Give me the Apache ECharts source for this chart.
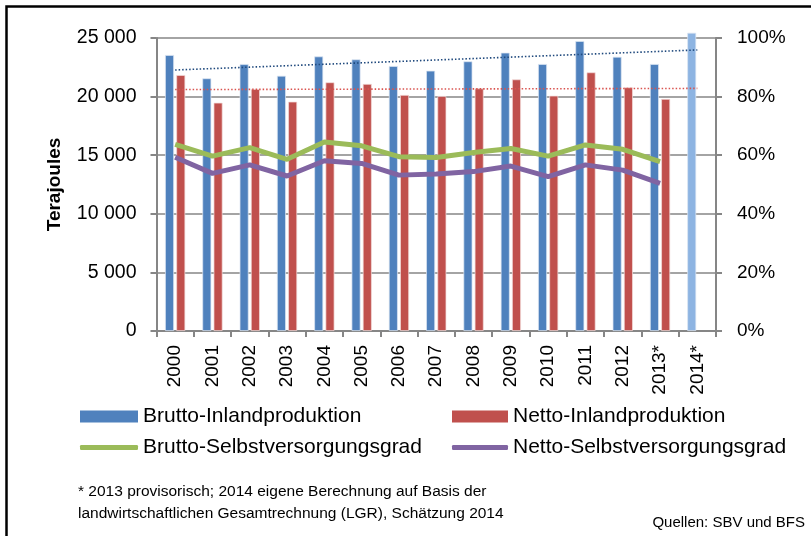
<!DOCTYPE html>
<html>
<head>
<meta charset="utf-8">
<script src="https://cdn.jsdelivr.net/npm/echarts@6/dist/echarts.min.js"></script>
<style>
html,body{margin:0;padding:0;background:#fff;}
#chart{width:811px;height:536px;}
</style>
</head>
<body>
<div id="chart"></div>
<script>
// ---- data ----
var categories = ['2000','2001','2002','2003','2004','2005','2006','2007','2008','2009','2010','2011','2012','2013*','2014*'];
var bruttoProd = [23550, 21560, 22780, 21780, 23430, 23180, 22610, 22210, 23010, 23750, 22780, 24740, 23400, 22780, 25450];
var nettoProd  = [21840, 19480, 20650, 19570, 21220, 21080, 20140, 20050, 20700, 21470, 20080, 22070, 20790, 19800, null];
var bruttoGrad = [63.7, 59.7, 62.6, 58.6, 64.5, 63.2, 59.5, 59.2, 60.9, 62.3, 59.7, 63.5, 62.0, 57.8, null];
var nettoGrad  = [59.3, 53.8, 56.7, 52.9, 58.1, 57.2, 53.2, 53.6, 54.4, 56.3, 52.7, 56.7, 54.9, 50.4, null];
// trend line end values (first and last category)
var bruttoTrendEnds = [22270, 23980];
var nettoTrendEnds  = [20600, 20700];
var leftTicks = [0, 5000, 10000, 15000, 20000, 25000];
var rightTicks = [0, 20, 40, 60, 80, 100];

var FONT = '"Liberation Sans", Arial, sans-serif';
var BLUE = '#4F81BD', RED = '#C0504D', GREEN = '#9BBB59', PURPLE = '#8064A2', LIGHTBLUE = '#8DB4E2';

function trendData(ends) {
  var arr = categories.map(function(){ return null; });
  arr[0] = ends[0];
  arr[arr.length - 1] = ends[1];
  return arr;
}
var bruttoBars = bruttoProd.map(function(v, i){
  if (i === bruttoProd.length - 1) return { value: v, itemStyle: { color: LIGHTBLUE, borderColor: 'rgba(220,230,242,0.9)' } };
  return v;
});
function fmtThousands(v){
  var s = String(v);
  return s.replace(/\B(?=(\d{3})+(?!\d))/g, ' ');
}

var legendText = { fontFamily: FONT, fontSize: 21, color: '#000' };
var chart = echarts.init(document.getElementById('chart'), null, {renderer: 'canvas'});
chart.setOption({
  animation: false,
  backgroundColor: '#fff',
  textStyle: { fontFamily: FONT, color: '#000' },
  grid: { left: 156.5, right: 95, top: 38, bottom: 205, containLabel: false },
  legend: [
    { left: 80, top: 406, padding: 0, itemWidth: 58, itemHeight: 12, icon: 'rect', data: ['Brutto-Inlandproduktion'],
      itemStyle: { borderWidth: 0 }, textStyle: legendText },
    { left: 452, top: 406, padding: 0, itemWidth: 56, itemHeight: 12, icon: 'rect', data: ['Netto-Inlandproduktion'],
      itemStyle: { borderWidth: 0 }, textStyle: legendText },
    { left: 80, top: 437, padding: 0, itemWidth: 58, itemHeight: 5, icon: 'roundRect', data: ['Brutto-Selbstversorgungsgrad'],
      textStyle: legendText },
    { left: 452, top: 437, padding: 0, itemWidth: 56, itemHeight: 5, icon: 'roundRect', data: ['Netto-Selbstversorgungsgrad'],
      textStyle: legendText }
  ],
  xAxis: {
    type: 'category',
    data: categories,
    axisLine: { lineStyle: { color: '#868686', width: 2 } },
    axisTick: { show: true, length: 6, alignWithLabel: false, lineStyle: { color: '#868686', width: 2 } },
    axisLabel: { rotate: 90, fontSize: 19, color: '#000', margin: 14, fontFamily: FONT, interval: 0 }
  },
  yAxis: [
    {
      type: 'value', min: leftTicks[0], max: leftTicks[leftTicks.length - 1], interval: 5000,
      name: 'Terajoules', nameLocation: 'middle', nameGap: 92, nameRotate: 90,
      nameTextStyle: { fontFamily: FONT, fontSize: 19, fontWeight: 'bold', color: '#000' },
      axisLine: { show: true, lineStyle: { color: '#868686', width: 2 } },
      axisTick: { show: true, length: 6, lineStyle: { color: '#868686', width: 2 } },
      axisLabel: { fontSize: 19.5, color: '#000', margin: 20, fontFamily: FONT,
        formatter: function(v){ return fmtThousands(v); } },
      splitLine: { lineStyle: { color: '#868686', width: 1.6 } }
    },
    {
      type: 'value', min: rightTicks[0], max: rightTicks[rightTicks.length - 1], interval: 20,
      position: 'right',
      axisLine: { show: true, lineStyle: { color: '#868686', width: 2 } },
      axisTick: { show: true, length: 6, lineStyle: { color: '#868686', width: 2 } },
      axisLabel: { fontSize: 19, color: '#000', margin: 21, fontFamily: FONT, formatter: '{value}%' },
      splitLine: { show: false }
    }
  ],
  series: [
    { name: 'Brutto-Inlandproduktion', type: 'bar', data: bruttoBars, barWidth: 9, barGap: '25%', clip: false,
      itemStyle: { color: BLUE, borderColor: 'rgba(220,230,242,0.9)', borderWidth: 0.8 } },
    { name: 'Netto-Inlandproduktion', type: 'bar', data: nettoProd, barWidth: 9, barGap: '25%', clip: false,
      itemStyle: { color: RED, borderColor: 'rgba(242,220,219,0.9)', borderWidth: 0.8 } },
    { name: 'Trend Brutto', type: 'line', data: trendData(bruttoTrendEnds), connectNulls: true,
      showSymbol: false, symbol: 'none', lineStyle: { color: '#1F497D', width: 1.6, type: [1.5, 2] }, z: 3 },
    { name: 'Trend Netto', type: 'line', data: trendData(nettoTrendEnds), connectNulls: true,
      showSymbol: false, symbol: 'none', lineStyle: { color: '#D9534F', width: 1.6, type: [1.5, 2] }, z: 3 },
    { name: 'Brutto-Selbstversorgungsgrad', type: 'line', yAxisIndex: 1, data: bruttoGrad,
      symbol: 'none', lineStyle: { color: GREEN, width: 5 }, itemStyle: { color: GREEN }, z: 4 },
    { name: 'Netto-Selbstversorgungsgrad', type: 'line', yAxisIndex: 1, data: nettoGrad,
      symbol: 'none', lineStyle: { color: PURPLE, width: 5 }, itemStyle: { color: PURPLE }, z: 4 }
  ],
  graphic: [
    { type: 'rect', left: 4, top: 4, shape: { width: 830, height: 560 },
      style: { fill: 'none', stroke: '#000', lineWidth: 2.5 }, silent: true },
    { type: 'text', left: 78, top: 484,
      style: { text: '* 2013 provisorisch; 2014 eigene Berechnung auf Basis der', fontFamily: FONT, fontSize: 15.5, fill: '#000' } },
    { type: 'text', left: 78, top: 506,
      style: { text: 'landwirtschaftlichen Gesamtrechnung (LGR), Schätzung 2014', fontFamily: FONT, fontSize: 15.5, fill: '#000' } },
    { type: 'text', right: 6, top: 515,
      style: { text: 'Quellen: SBV und BFS', fontFamily: FONT, fontSize: 15, fill: '#000' } }
  ]
});
</script>
</body>
</html>
